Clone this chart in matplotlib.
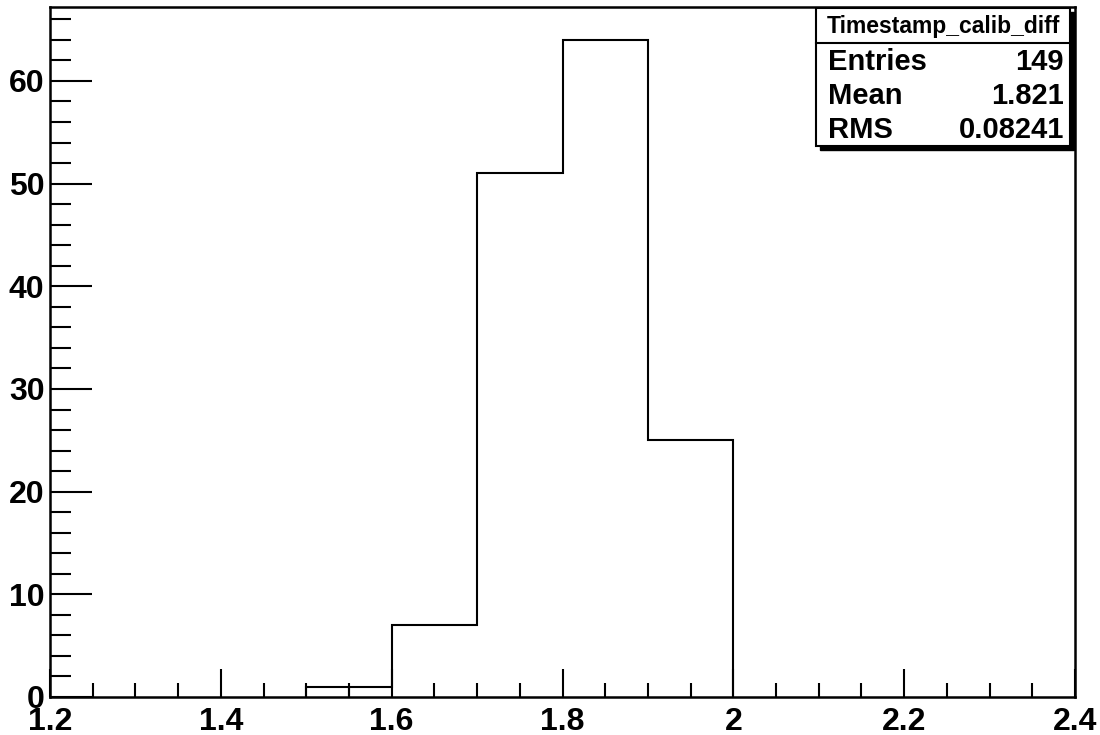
import matplotlib
matplotlib.use("Agg")
import matplotlib.pyplot as plt
from matplotlib.ticker import MultipleLocator, FuncFormatter
from matplotlib.patches import Rectangle

bin_edges = [1.5, 1.55, 1.6, 1.7, 1.8, 1.9, 2.0]
counts = [1, 1, 7, 51, 64, 25]
stats_title = "Timestamp_calib_diff"
stats_names = ["Entries", "Mean", "RMS"]
stats_values = ["149", "1.821", "0.08241"]

plt.rcParams['font.family'] = ['Liberation Sans', 'DejaVu Sans']
plt.rcParams['font.weight'] = 'bold'

fig = plt.figure(figsize=(11, 7.35), dpi=100)
ax = fig.add_axes([50/1100, 38/735, 1025/1100, 690/735])

ax.stairs(counts, bin_edges, color='black', linewidth=1.5, baseline=0)
# separator line between equal adjacent bins as in the original drawing
ax.vlines(bin_edges[1], 0, counts[0], color='black', linewidth=1.5)

ax.set_xlim(1.2, 2.4)
ax.set_ylim(0, 1.05 * max(counts))
ax.xaxis.set_major_locator(MultipleLocator(0.2))
ax.xaxis.set_minor_locator(MultipleLocator(0.05))
ax.yaxis.set_major_locator(MultipleLocator(10))
ax.yaxis.set_minor_locator(MultipleLocator(2))
ax.tick_params(which='both', direction='in', top=False, right=False, width=1.5,
               labelsize=23)
ax.tick_params(axis='x', which='major', length=20, pad=7)
ax.tick_params(axis='x', which='minor', length=10)
ax.tick_params(axis='y', which='major', length=30, pad=4)
ax.tick_params(axis='y', which='minor', length=15)


def xfmt(v, p):
    if abs(v - round(v)) < 1e-9:
        return f"{int(round(v))}"
    return f"{v:.1f}"


ax.xaxis.set_major_formatter(FuncFormatter(xfmt))
for lab in ax.get_xticklabels() + ax.get_yticklabels():
    lab.set_fontweight('bold')
for s in ax.spines.values():
    s.set_linewidth(1.8)


def fx(px):
    return px / 1100


def fy(py):
    return 1 - py / 735


x0, x1 = 816, 1070
y0, y1 = 8, 146
sh = 4
fig.patches.append(Rectangle((fx(x0 + sh), fy(y1 + sh)), fx(x1 - x0), (y1 - y0) / 735,
                             transform=fig.transFigure, facecolor='black', edgecolor='black', zorder=5))
fig.patches.append(Rectangle((fx(x0), fy(y1)), fx(x1 - x0), (y1 - y0) / 735,
                             transform=fig.transFigure, facecolor='white', edgecolor='black',
                             linewidth=1.5, zorder=6))
fig.lines.append(plt.Line2D([fx(x0), fx(x1)], [fy(43), fy(43)], transform=fig.transFigure,
                            color='black', linewidth=1.5, zorder=7))
fig.text(fx((x0 + x1) / 2), fy(27), stats_title, ha='center', va='center', fontsize=16.5,
         fontweight='bold', zorder=8)
row_y = [62, 96, 130]
for name, val, yy in zip(stats_names, stats_values, row_y):
    fig.text(fx(x0 + 12), fy(yy), name, ha='left', va='center', fontsize=21, fontweight='bold', zorder=8)
    fig.text(fx(x1 - 6), fy(yy), val, ha='right', va='center', fontsize=21, fontweight='bold', zorder=8)

fig.savefig("out.png", dpi=100)
